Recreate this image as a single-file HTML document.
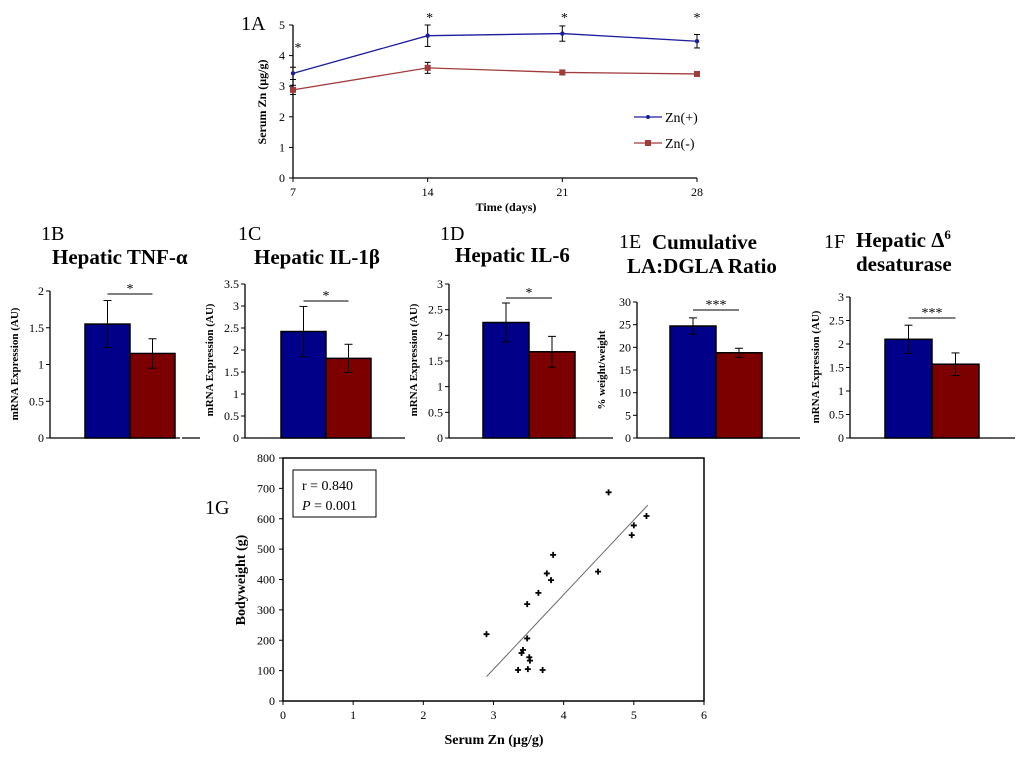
<!DOCTYPE html>
<html><head><meta charset="utf-8"><style>
html,body{margin:0;padding:0;background:#fff;}
svg{display:block;font-family:"Liberation Serif",serif;}
</style></head><body>
<svg id="fig" width="1024" height="763" viewBox="0 0 1024 763" xmlns="http://www.w3.org/2000/svg"></svg>
<script>
// ---- 1A data ----
const days = [7, 14, 21, 28];
const znPlus = [3.42, 4.65, 4.72, 4.47];
const znPlusErr = [0.2, 0.35, 0.25, 0.22];
const znMinus = [2.88, 3.6, 3.45, 3.4];
const znMinusErr = [0.15, 0.18, 0.08, 0.07];
const lineYTicks = [0, 1, 2, 3, 4, 5];
// ---- bar data (1B..1F): [Zn(+), Zn(-)] ----
const tnfVals = [1.55, 1.15]; const tnfErr = [0.32, 0.2];
const il1Vals = [2.42, 1.81]; const il1Err = [0.57, 0.32];
const il6Vals = [2.25, 1.68]; const il6Err = [0.38, 0.3];
const ratioVals = [24.7, 18.8]; const ratioErr = [1.8, 1.0];
const d6Vals = [2.1, 1.57]; const d6Err = [0.3, 0.24];
const ticks2 = ["0","0.5","1","1.5","2"];
const ticks35 = ["0","0.5","1","1.5","2","2.5","3","3.5"];
const ticks3 = ["0","0.5","1","1.5","2","2.5","3"];
const ticks30 = ["0","5","10","15","20","25","30"];
// ---- 1G scatter data ----
const scatterX = [2.90,4.64,5.18,5.00,4.97,3.85,4.49,3.76,3.82,3.64,3.48,3.48,3.42,3.40,3.51,3.52,3.49,3.35,3.70];
const scatterY = [220,687,609,578,546,481,426,420,398,356,319,206,168,158,144,133,105,102,102];
const fitX = [2.9, 5.2];
const fitY = [80, 645];
const scXTicks = [0,1,2,3,4,5,6];
const scYTicks = [0,100,200,300,400,500,600,700,800];

const svg = document.getElementById('fig');
const NS = 'http://www.w3.org/2000/svg';
function mk(tag, attrs, parent){ const e=document.createElementNS(NS,tag); for(const k in attrs) e.setAttribute(k,attrs[k]); (parent||svg).appendChild(e); return e; }
function txt(s, attrs, parent){ const e=mk('text',attrs,parent); e.textContent=s; return e; }

// ===== 1A =====
(function(){
  const g = mk('g',{});
  
  
  const x0=293,x1=697,y0=178,y1=25;
  const sx=v=>x0+(v-7)/(28-7)*(x1-x0);
  const sy=v=>y0-(v-0)/5*(y0-y1);
  txt('1A',{x:241,y:30,'font-size':20},g);
  mk('line',{x1:x0,y1:y1,x2:x0,y2:y0,stroke:'#000','stroke-width':1.3},g);
  mk('line',{x1:x0,y1:y0,x2:x1,y2:y0,stroke:'#000','stroke-width':1.3},g);
  lineYTicks.forEach(t=>{ mk('line',{x1:x0-4,y1:sy(t),x2:x0,y2:sy(t),stroke:'#000'},g); txt(String(t),{x:x0-8,y:sy(t)+4,'font-size':12,'text-anchor':'end'},g); });
  days.forEach(d=>{ mk('line',{x1:sx(d),y1:y0,x2:sx(d),y2:y0+4,stroke:'#000'},g); txt(String(d),{x:sx(d),y:y0+18,'font-size':12,'text-anchor':'middle'},g); });
  txt('Time (days)',{x:506,y:211,'font-size':12,'font-weight':'bold','text-anchor':'middle'},g);
  txt('Serum Zn (µg/g)',{x:0,y:0,'font-size':12,'font-weight':'bold','text-anchor':'middle',transform:'translate(266,102) rotate(-90)'},g);
  function series(vals,errs,color,marker,name){
    const sg=mk('g',{},g);
    
    
    vals.forEach((v,i)=>{ const x=sx(days[i]); mk('line',{x1:x,y1:sy(v+errs[i]),x2:x,y2:sy(v-errs[i]),stroke:'#000'},sg); mk('line',{x1:x-3,y1:sy(v+errs[i]),x2:x+3,y2:sy(v+errs[i]),stroke:'#000'},sg); mk('line',{x1:x-3,y1:sy(v-errs[i]),x2:x+3,y2:sy(v-errs[i]),stroke:'#000'},sg); });
    mk('polyline',{points:vals.map((v,i)=>sx(days[i])+','+sy(v)).join(' '),fill:'none',stroke:color,'stroke-width':1.3},sg);
    vals.forEach((v,i)=>{ const x=sx(days[i]),y=sy(v); if(marker==='d') mk('circle',{cx:x,cy:y,r:2.2,fill:color},sg); else mk('rect',{x:x-3,y:y-3,width:6,height:6,fill:color},sg); });
  }
  series(znPlus,znPlusErr,'#1c1c9c','d','zn-plus-series');
  series(znMinus,znMinusErr,'#a03c3c','s','zn-minus-series');
  znPlus.forEach((v,i)=>{ txt('*',{x:sx(days[i])+(i===0?5:i===3?0:2),y:i===0?52:22,'font-size':14,'text-anchor':'middle'},g); });
  const lg=mk('g',{},g);
  
  
  mk('line',{x1:634,y1:117,x2:662,y2:117,stroke:'#1c1c9c','stroke-width':1.3},lg); mk('circle',{cx:648,cy:117,r:2,fill:'#1c1c9c'},lg);
  txt('Zn(+)',{x:665,y:122,'font-size':14},lg);
  mk('line',{x1:634,y1:143,x2:662,y2:143,stroke:'#a03c3c','stroke-width':1.3},lg); mk('rect',{x:645,y:140,width:6,height:6,fill:'#a03c3c'},lg);
  txt('Zn(-)',{x:665,y:148,'font-size':14},lg);
})();

// ===== bar panels =====
function barPanel(o){
  const g=mk('g',{});
  
  
  const ticks=o.ticks, max=parseFloat(ticks[ticks.length-1]);
  const sy=v=>o.y0-v/max*(o.y0-o.yTop);
  mk('line',{x1:o.ax,y1:o.yTop,x2:o.ax,y2:o.y0,stroke:'#000','stroke-width':1.3},g);
  mk('line',{x1:o.ax,y1:o.y0,x2:o.bx1,y2:o.y0,stroke:'#000','stroke-width':1.3},g);
  ticks.forEach(t=>{ const v=parseFloat(t); mk('line',{x1:o.ax-4,y1:sy(v),x2:o.ax,y2:sy(v),stroke:'#000'},g); txt(t,{x:o.ax-6,y:sy(v)+4,'font-size':12,'text-anchor':'end'},g); });
  const colors=['#000088','#7c0000'];
  o.vals.forEach((v,i)=>{
    const x=o.barX+i*o.bw;
    const r=mk('rect',{x:x,y:sy(v),width:o.bw,height:o.y0-sy(v),fill:colors[i],stroke:'#000','stroke-width':1.5},g);
    
    
    const cx=x+o.bw/2, e=o.errs[i];
    mk('line',{x1:cx,y1:sy(v+e),x2:cx,y2:sy(v-e),stroke:'#000'},g);
    mk('line',{x1:cx-4,y1:sy(v+e),x2:cx+4,y2:sy(v+e),stroke:'#000'},g);
    mk('line',{x1:cx-4,y1:sy(v-e),x2:cx+4,y2:sy(v-e),stroke:'#000'},g);
  });
  const c0=o.barX+o.bw/2, c1=o.barX+1.5*o.bw;
  mk('line',{x1:c0,y1:o.sigY,x2:c1,y2:o.sigY,stroke:'#000'},g);
  txt(o.star,{x:(c0+c1)/2,y:o.sigY-1,'font-size':14,'text-anchor':'middle'},g);
  txt(o.ytitle,{x:0,y:0,'font-size':11,'font-weight':'bold','text-anchor':'middle',transform:'translate('+o.tx+','+o.ty+') rotate(-90)'},g);
  txt(o.label,{x:o.lx,y:o.ly,'font-size':20},g);
  o.titles.forEach(t=>{ const e=txt(t[0],{x:t[1],y:t[2],'font-size':21,'font-weight':'bold'},g); if(t[3]){ const s=document.createElementNS(NS,'tspan'); s.setAttribute('font-size',13); s.setAttribute('dy',-8); s.textContent=t[3]; e.appendChild(s);} });
}
barPanel({name:'tnf-alpha-bar-chart',ax:50,yTop:291,y0:438,bx1:180,ticks:ticks2,vals:tnfVals,errs:tnfErr,barX:85,bw:45,sigY:294,star:'*',ytitle:'mRNA  Expression  (AU)',tx:18,ty:364,label:'1B',lx:41,ly:240,titles:[['Hepatic TNF-α',52,264]]});
mk('line',{x1:182,y1:438,x2:200,y2:438,stroke:'#000','stroke-width':1.3});
barPanel({name:'il-1b-bar-chart',ax:245,yTop:284,y0:438,bx1:405,ticks:ticks35,vals:il1Vals,errs:il1Err,barX:281,bw:45,sigY:301,star:'*',ytitle:'mRNA  Expression  (AU)',tx:213,ty:360,label:'1C',lx:238,ly:240,titles:[['Hepatic IL-1β',254,264]]});
barPanel({name:'il-6-bar-chart',ax:449,yTop:284,y0:438,bx1:613,ticks:ticks3,vals:il6Vals,errs:il6Err,barX:483,bw:46,sigY:298,star:'*',ytitle:'mRNA  Expression  (AU)',tx:417,ty:360,label:'1D',lx:440,ly:240,titles:[['Hepatic IL-6',455,262]]});
barPanel({name:'la-dgla-ratio-bar-chart',ax:637,yTop:302,y0:438,bx1:800,ticks:ticks30,vals:ratioVals,errs:ratioErr,barX:670,bw:46,sigY:310,star:'***',ytitle:'% weight/weight',tx:605,ty:370,label:'1E',lx:619,ly:248,titles:[['Cumulative',652,249],['LA:DGLA Ratio',627,273]]});
barPanel({name:'delta6-desaturase-bar-chart',ax:850,yTop:297,y0:438,bx1:1015,ticks:ticks3,vals:d6Vals,errs:d6Err,barX:885,bw:47,sigY:318,star:'***',ytitle:'mRNA  Expression  (AU)',tx:819,ty:367,label:'1F',lx:824,ly:248,titles:[['Hepatic Δ',856,247,'6'],['desaturase',856,271]]});

// ===== 1G scatter =====
(function(){
  const g=mk('g',{});
  
  
  const x0=283,x1=704,y0=701,y1=458;
  const sx=v=>x0+v/6*(x1-x0), sy=v=>y0-v/800*(y0-y1);
  mk('rect',{x:x0,y:y1,width:x1-x0,height:y0-y1,fill:'none',stroke:'#000','stroke-width':1.5},g);
  scYTicks.forEach(t=>{ mk('line',{x1:x0-4,y1:sy(t),x2:x0,y2:sy(t),stroke:'#000'},g); txt(String(t),{x:x0-8,y:sy(t)+4,'font-size':12,'text-anchor':'end'},g); });
  scXTicks.forEach(t=>{ mk('line',{x1:sx(t),y1:y0,x2:sx(t),y2:y0+4,stroke:'#000'},g); txt(String(t),{x:sx(t),y:y0+18,'font-size':12,'text-anchor':'middle'},g); });
  txt('Serum Zn (µg/g)',{x:494,y:744,'font-size':14,'font-weight':'bold','text-anchor':'middle'},g);
  txt('Bodyweight (g)',{x:0,y:0,'font-size':14,'font-weight':'bold','text-anchor':'middle',transform:'translate(245,580) rotate(-90)'},g);
  txt('1G',{x:205,y:514,'font-size':20},g);
  const fl=mk('line',{x1:sx(fitX[0]),y1:sy(fitY[0]),x2:sx(fitX[1]),y2:sy(fitY[1]),stroke:'#666','stroke-width':1},g);
  
  
  scatterX.forEach((v,i)=>{ const x=sx(v),y=sy(scatterY[i]); const p=mk('path',{d:'M'+(x-3)+' '+y+'H'+(x+3)+'M'+x+' '+(y-3)+'V'+(y+3),stroke:'#000','stroke-width':1.8},g);
    
     });
  const sb=mk('g',{},g);
  
  
  mk('rect',{x:293,y:470,width:83,height:47,fill:'#fff',stroke:'#000','stroke-width':1},sb);
  txt('r = 0.840',{x:302,y:490,'font-size':14},sb);
  const p=txt('',{x:302,y:510,'font-size':14},sb);
  const i1=document.createElementNS(NS,'tspan'); i1.setAttribute('font-style','italic'); i1.textContent='P'; p.appendChild(i1);
  const i2=document.createElementNS(NS,'tspan'); i2.textContent=' = 0.001'; p.appendChild(i2);
})();
</script>
</body></html>
